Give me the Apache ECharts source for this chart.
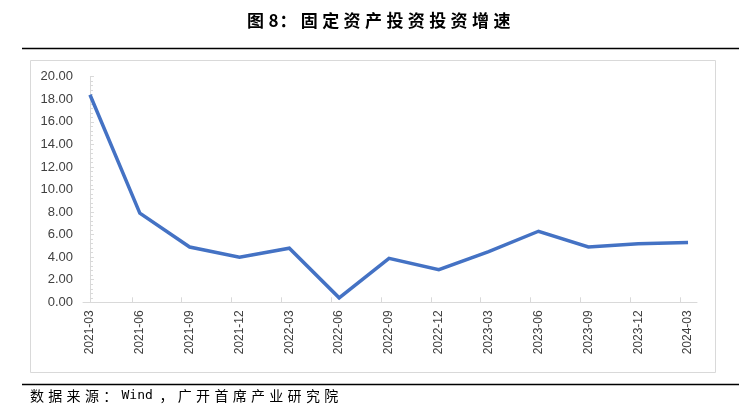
<!DOCTYPE html>
<html>
<head>
<meta charset="utf-8">
<script src="https://cdn.jsdelivr.net/npm/echarts@6/dist/echarts.min.js"></script>
<style>
html,body{margin:0;padding:0;background:#fff;}
#c{width:753px;height:410px;}
</style>
</head>
<body>
<div id="c"></div>
<script>
const titleText = '图8：固定资产投资投资增速';
const sourceText = '数据来源：Wind，广开首席产业研究院';
const categories = ['2021-03','2021-06','2021-09','2021-12','2022-03','2022-06','2022-09','2022-12','2023-03','2023-06','2023-09','2023-12','2024-03'];
const values = [18.4, 7.9, 4.9, 4.0, 4.8, 0.4, 3.9, 2.9, 4.5, 6.3, 4.9, 5.2, 5.3];
const yTicks = [0,2,4,6,8,10,12,14,16,18,20];

const idx = categories.map((c, i) => i);
const tickPos = idx.slice(1).map(i => i - 0.16);
const seriesData = values.map((v, i) => [i, v]);

// spread wide characters like the original's glyph pitch; keep ASCII runs together
function spaced(str) {
  const parts = str.match(/[\x00-\xff]+|[^\x00-\xff]/g) || [];
  return parts.map(p => (p.charCodeAt(0) < 256 ? '{h|' : '{f|') + p + '}').join('');
}

const chart = echarts.init(document.getElementById('c'), null, {renderer: 'canvas'});
chart.setOption({
  animation: false,
  backgroundColor: '#fff',
  graphic: [
    {type: 'text', left: 247, top: 12, style: {
      text: spaced(titleText),
      rich: {
        f: {width: 21.4, fontFamily: 'Noto Sans CJK SC', fontWeight: 'bold', fontSize: 17, fill: '#000'},
        h: {width: 11, fontFamily: 'Noto Sans CJK SC', fontWeight: 'bold', fontSize: 17, fill: '#000'}
      }
    }},
    {type: 'line', shape: {x1: 22, y1: 48.5, x2: 739, y2: 48.5}, style: {stroke: '#000', lineWidth: 1.5}},
    {type: 'rect', shape: {x: 30.5, y: 60.5, width: 685, height: 312}, style: {fill: 'none', stroke: '#d9d9d9', lineWidth: 1}},
    {type: 'line', shape: {x1: 22, y1: 384.5, x2: 739, y2: 384.5}, style: {stroke: '#000', lineWidth: 1.5}},
    {type: 'text', left: 30, top: 389, style: {
      text: spaced(sourceText),
      rich: {
        f: {width: 18.3, fontFamily: 'Noto Sans CJK SC', fontSize: 14, fill: '#000'},
        h: {width: 38, fontFamily: 'DejaVu Sans Mono', fontSize: 13, fill: '#000'}
      }
    }}
  ],
  grid: {left: 83, right: 56, top: 76.7, bottom: 107.7},
  xAxis: {
    type: 'value',
    min: -0.14, max: 12.18,
    axisLine: {show: true, lineStyle: {color: '#d9d9d9', width: 1}},
    axisTick: {show: true, inside: true, length: 5, customValues: tickPos, lineStyle: {color: '#d9d9d9'}},
    axisLabel: {
      customValues: idx, rotate: 90, margin: 8, fontSize: 12, color: '#404040',
      fontFamily: 'Liberation Sans',
      formatter: v => categories[Math.round(v)]
    },
    splitLine: {show: false}
  },
  yAxis: {
    type: 'value',
    min: 0, max: 20, interval: 2,
    axisLine: {show: true, lineStyle: {color: '#d9d9d9', width: 1}},
    axisTick: {show: true, inside: true, length: 4, lineStyle: {color: '#d9d9d9'}},
    minorTick: {show: true, splitNumber: 5, length: 3, lineStyle: {color: '#d9d9d9'}},
    axisLabel: {
      customValues: yTicks, margin: 10, fontSize: 13, color: '#404040',
      fontFamily: 'Liberation Sans',
      formatter: v => v.toFixed(2)
    },
    splitLine: {show: false}
  },
  series: [{
    type: 'line',
    data: seriesData,
    showSymbol: false,
    symbol: 'none',
    lineStyle: {color: '#4472C4', width: 3.5, join: 'miter'},
    itemStyle: {color: '#4472C4'}
  }]
});
</script>
</body>
</html>
